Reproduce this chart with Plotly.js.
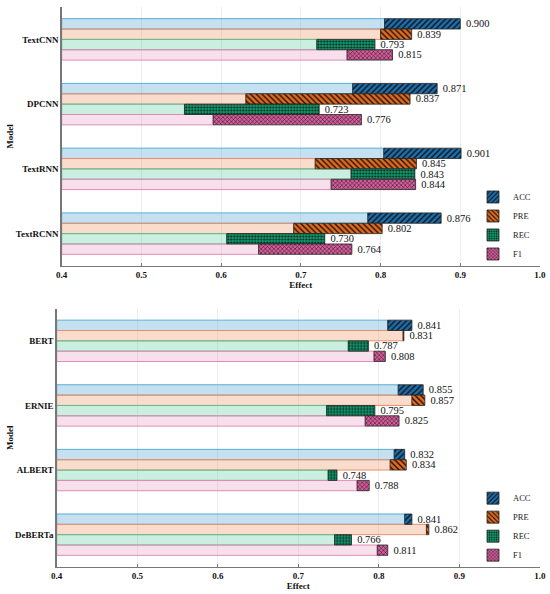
<!DOCTYPE html>
<html>
<head>
<meta charset="utf-8">
<script src="https://cdn.plot.ly/plotly-3.0.1.min.js"></script>
<style>html,body{margin:0;padding:0;background:#fff;}#chart{width:550px;height:594px;}</style>
</head>
<body>
<div id="chart"></div>
<script>
// ---- data ----
const metrics = ["ACC", "PRE", "REC", "F1"];
const modelsTop = ["TextCNN", "DPCNN", "TextRNN", "TextRCNN"];
const modelsBottom = ["BERT", "ERNIE", "ALBERT", "DeBERTa"];

// final values (labels)
const topACC = [0.900, 0.871, 0.901, 0.876];
const topPRE = [0.839, 0.837, 0.845, 0.802];
const topREC = [0.793, 0.723, 0.843, 0.730];
const topF1  = [0.815, 0.776, 0.844, 0.764];
// where the highlighted segment starts (end of pale bar)
const topACCStart = [0.805, 0.765, 0.804, 0.784];
const topPREStart = [0.800, 0.631, 0.718, 0.691];
const topRECStart = [0.720, 0.554, 0.763, 0.607];
const topF1Start  = [0.758, 0.590, 0.738, 0.647];

const botACC = [0.841, 0.855, 0.832, 0.841];
const botPRE = [0.831, 0.857, 0.834, 0.862];
const botREC = [0.787, 0.795, 0.748, 0.766];
const botF1  = [0.808, 0.825, 0.788, 0.811];
const botACCStart = [0.811, 0.824, 0.819, 0.832];
const botPREStart = [0.830, 0.841, 0.814, 0.859];
const botRECStart = [0.762, 0.735, 0.737, 0.745];
const botF1Start  = [0.794, 0.783, 0.773, 0.798];

const xTicks = [0.4, 0.5, 0.6, 0.7, 0.8, 0.9, 1.0];
const axisMin = 0.4;

// ---- styles ----
const darkColors = ["#1c6fae", "#e86b1c", "#0e9a6c", "#d65c9c"];
const paleColors = ["rgba(79,160,208,0.33)", "rgba(240,140,90,0.30)", "rgba(80,200,150,0.30)", "rgba(230,140,185,0.28)"];
const edgeColors = ["#5aaed2", "#e8906e", "#5cc196", "#e08cb6"];
const shapes = ["/", "\\", ".", "x"];
const patSizes = [4, 4, 3, 3];
const patSolid = [0.35, 0.35, 0.3, 0.3];
const serif = "Liberation Serif";
const barW = 0.16;
const offsets = [-0.32, -0.16, 0.0, 0.16];

function buildTraces(models, ends, starts, xa, ya, legendName) {
  const traces = [];
  metrics.forEach((m, i) => {
    traces.push({
      type: "bar", orientation: "h",
      y: models, x: starts[i].map(s => s - axisMin), base: models.map(() => axisMin),
      xaxis: xa, yaxis: ya, width: barW, offset: offsets[i],
      marker: {color: paleColors[i], line: {color: edgeColors[i], width: 1}},
      showlegend: false, hoverinfo: "skip"
    });
  });
  metrics.forEach((m, i) => {
    traces.push({
      type: "bar", orientation: "h", name: m,
      y: models, x: ends[i].map((e, k) => e - starts[i][k]), base: starts[i],
      xaxis: xa, yaxis: ya, width: barW, offset: offsets[i],
      marker: {color: darkColors[i], line: {color: "#222", width: 0.8},
               pattern: {shape: shapes[i], fgcolor: "#111", bgcolor: darkColors[i], size: patSizes[i], solidity: patSolid[i]}},
      text: ends[i].map(v => "\u00a0" + v.toFixed(3)), textposition: "outside",
      textfont: {family: serif, size: 10.5, color: "#111"},
      constraintext: "none", cliponaxis: false,
      legend: legendName, showlegend: true
    });
  });
  return traces;
}

const data = [
  ...buildTraces(modelsTop, [topACC, topPRE, topREC, topF1], [topACCStart, topPREStart, topRECStart, topF1Start], "x", "y", "legend"),
  ...buildTraces(modelsBottom, [botACC, botPRE, botREC, botF1], [botACCStart, botPREStart, botRECStart, botF1Start], "x2", "y2", "legend2")
];

function xAxis(domain, anchor) {
  return {
    domain: domain, anchor: anchor, range: [0.4, 1.0],
    tickvals: xTicks, ticktext: xTicks.map(v => v.toFixed(1)),
    ticks: "inside", ticklen: 3, tickcolor: "#777", tickwidth: 1,
    showline: true, linecolor: "#777", linewidth: 1.5,
    showgrid: true, gridcolor: "#ececec", gridwidth: 1, zeroline: false,
    tickfont: {family: serif, size: 9, color: "#111", weight: "bold"},
    title: {text: "<b>Effect</b>", font: {family: serif, size: 9, color: "#111"}, standoff: 0},
    automargin: false
  };
}
function yAxis(domain, anchor, cats) {
  return {
    domain: domain, anchor: anchor, type: "category",
    categoryorder: "array", categoryarray: cats, autorange: "reversed",
    range: [3.5, -0.5],
    showline: true, linecolor: "#777", linewidth: 1.5,
    showgrid: false, zeroline: false, ticks: "", ticklen: 0,
    tickfont: {family: serif, size: 9, color: "#111", weight: "bold"},
    title: {text: "<b>Model</b>", font: {family: serif, size: 9, color: "#111"}, standoff: 0},
    automargin: false
  };
}

const legendBase = {
  xanchor: "left", yanchor: "bottom", bgcolor: "rgba(0,0,0,0)",
  font: {family: serif, size: 8.5, color: "#222"}, itemwidth: 30, tracegroupgap: 0
};

const layout = {
  width: 550, height: 594,
  margin: {l: 0, r: 0, t: 0, b: 0},
  paper_bgcolor: "#fff", plot_bgcolor: "#fff",
  barmode: "overlay", showlegend: true,
  font: {family: serif},
  xaxis: xAxis([0.1122, 0.9818], "y"),
  yaxis: yAxis([0.5522, 0.9882], "x", modelsTop),
  xaxis2: xAxis([0.1031, 0.9818], "y2"),
  yaxis2: yAxis([0.0455, 0.4806], "x2", modelsBottom),
  legend: Object.assign({}, legendBase, {x: 0.86, y: 0.548}),
  legend2: Object.assign({}, legendBase, {x: 0.86, y: 0.041})
};

Plotly.newPlot("chart", data, layout, {displayModeBar: false, staticPlot: true});
</script>
</body>
</html>
